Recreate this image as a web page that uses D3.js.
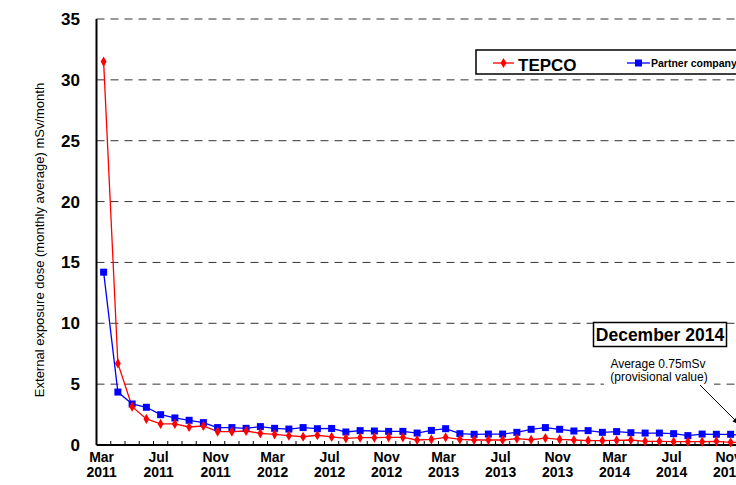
<!DOCTYPE html>
<html>
<head>
<meta charset="utf-8">
<script src="https://cdn.jsdelivr.net/npm/d3@7"></script>
<style>
  body { margin: 0; overflow: hidden; background: #fff; }
  text { font-family: "Liberation Sans", Arial, sans-serif; }
</style>
</head>
<body>
<div id="chart"></div>
<script>
// monthly labels, Mar 2011 .. Dec 2014
const months = [];
const monthNames = ['Jan','Feb','Mar','Apr','May','Jun','Jul','Aug','Sep','Oct','Nov','Dec'];
for (let y = 2011; y <= 2014; y++) {
  for (let m = 0; m < 12; m++) {
    if (y === 2011 && m < 2) continue;
    months.push(monthNames[m] + ' ' + y);
  }
}

const tepco = [
  31.5, 6.7, 3.15, 2.14, 1.73, 1.73, 1.48, 1.56, 1.1, 1.1,
  1.15, 0.96, 0.88, 0.77, 0.68, 0.8, 0.66, 0.55, 0.6, 0.6,
  0.63, 0.63, 0.41, 0.46, 0.63, 0.46, 0.41, 0.41, 0.41, 0.52,
  0.43, 0.57, 0.46, 0.41, 0.36, 0.36, 0.38, 0.41, 0.3, 0.3,
  0.27, 0.27, 0.27, 0.3, 0.22, 0.2
];
const partner = [
  14.2, 4.35, 3.37, 3.1, 2.49, 2.22, 2.03, 1.84, 1.43, 1.43,
  1.37, 1.51, 1.37, 1.31, 1.43, 1.34, 1.36, 1.07, 1.18, 1.15,
  1.12, 1.12, 0.98, 1.2, 1.34, 0.93, 0.88, 0.9, 0.9, 1.04,
  1.29, 1.43, 1.29, 1.15, 1.18, 1.04, 1.1, 1.01, 0.98, 0.98,
  0.93, 0.77, 0.9, 0.88, 0.88, 0.75
];
const yTicks = [0, 5, 10, 15, 20, 25, 30, 35];

const width = 780;
const height = 485;
const margin = { top: 19, bottom: 40, left: 96.5 };

const svg = d3.select('#chart')
  .append('svg')
  .attr('width', width)
  .attr('height', height);

const x = d3.scaleBand()
  .domain(d3.range(months.length))
  .range([margin.left, margin.left + 14.25 * months.length])
  .padding(0);

const y = d3.scaleLinear()
  .domain([0, 35])
  .range([height - margin.bottom, margin.top]);

const cx = i => x(i) + x.bandwidth() / 2;

// grid
svg.append('g')
  .selectAll('line')
  .data(yTicks.filter(d => d > 0))
  .join('line')
    .attr('x1', margin.left)
    .attr('x2', width)
    .attr('y1', d => y(d))
    .attr('y2', d => y(d))
    .attr('stroke', '#333')
    .attr('stroke-width', 1)
    .attr('stroke-dasharray', '8,6');

// y labels
svg.append('g')
  .selectAll('text')
  .data(yTicks)
  .join('text')
    .attr('x', 80)
    .attr('y', d => y(d))
    .attr('dy', '0.35em')
    .attr('text-anchor', 'end')
    .attr('font-size', '17px')
    .attr('font-weight', 'bold')
    .text(d => d);

// x ticks between months, pointing inward
svg.append('g')
  .selectAll('line')
  .data(d3.range(1, months.length))
  .join('line')
    .attr('x1', i => x(i))
    .attr('x2', i => x(i))
    .attr('y1', y(0))
    .attr('y2', y(0) - 4)
    .attr('stroke', '#000');

// x labels every 4 months
const xl = svg.append('g')
  .selectAll('text')
  .data(d3.range(0, months.length, 4))
  .join('text')
    .attr('text-anchor', 'middle')
    .attr('font-size', '14px')
    .attr('font-weight', 'bold');
xl.append('tspan')
  .attr('x', i => cx(i) - 2)
  .attr('y', 462)
  .text(i => months[i].split(' ')[0]);
xl.append('tspan')
  .attr('x', i => cx(i) - 2)
  .attr('y', 477)
  .text(i => months[i].split(' ')[1]);

// axes lines
svg.append('line')
  .attr('x1', margin.left).attr('x2', margin.left)
  .attr('y1', y(35)).attr('y2', y(0))
  .attr('stroke', '#000').attr('stroke-width', 2);
svg.append('line')
  .attr('x1', margin.left).attr('x2', width)
  .attr('y1', y(0)).attr('y2', y(0))
  .attr('stroke', '#000').attr('stroke-width', 2);

// y axis title
svg.append('text')
  .attr('transform', `translate(44, ${y(17.5) + 8}) rotate(-90)`)
  .attr('text-anchor', 'middle')
  .attr('font-size', '13px')
  .text('External exposure dose (monthly average) mSv/month');

// series
const line = d3.line().x((d, i) => cx(i)).y(d => y(d));

svg.append('path')
  .datum(partner)
  .attr('fill', 'none')
  .attr('stroke', '#0000ff')
  .attr('stroke-width', 1.3)
  .attr('d', line);

svg.append('path')
  .datum(tepco)
  .attr('fill', 'none')
  .attr('stroke', '#ff0000')
  .attr('stroke-width', 1.3)
  .attr('d', line);

svg.append('g')
  .attr('fill', '#0000ff')
  .selectAll('rect')
  .data(partner)
  .join('rect')
    .attr('x', (d, i) => cx(i) - 3.5)
    .attr('y', d => y(d) - 3.5)
    .attr('width', 7)
    .attr('height', 7);

const diamond = d3.symbol().type(d3.symbolDiamond).size(30);
svg.append('g')
  .attr('fill', '#ff0000')
  .selectAll('path')
  .data(tepco)
  .join('path')
    .attr('transform', (d, i) => `translate(${cx(i)},${y(d)})`)
    .attr('d', diamond);

// legend
const lg = svg.append('g');
lg.append('rect')
  .attr('x', 476).attr('y', 50)
  .attr('width', 300).attr('height', 24)
  .attr('fill', '#fff').attr('stroke', '#000').attr('stroke-width', 1.5);
lg.append('line')
  .attr('x1', 493).attr('x2', 514).attr('y1', 63).attr('y2', 63)
  .attr('stroke', '#ff0000').attr('stroke-width', 1.3);
lg.append('path')
  .attr('transform', 'translate(503.5,63)')
  .attr('d', diamond).attr('fill', '#ff0000');
lg.append('text')
  .attr('x', 518).attr('y', 70.5)
  .attr('font-size', '17px').attr('font-weight', 'bold')
  .text('TEPCO');
lg.append('line')
  .attr('x1', 627).attr('x2', 650).attr('y1', 63).attr('y2', 63)
  .attr('stroke', '#0000ff').attr('stroke-width', 1.3);
lg.append('rect')
  .attr('x', 635).attr('y', 59.5).attr('width', 7).attr('height', 7)
  .attr('fill', '#0000ff');
lg.append('text')
  .attr('x', 651).attr('y', 67)
  .attr('font-size', '10.5px').attr('font-weight', 'bold')
  .text('Partner company');

// annotation
const an = svg.append('g');
an.append('rect')
  .attr('x', 604).attr('y', 352).attr('width', 110).attr('height', 34)
  .attr('fill', '#fff');
an.append('rect')
  .attr('x', 593.5).attr('y', 322.5).attr('width', 133).attr('height', 24)
  .attr('fill', '#fff').attr('stroke', '#000').attr('stroke-width', 1.5);
an.append('text')
  .attr('x', 660).attr('y', 341)
  .attr('text-anchor', 'middle')
  .attr('font-size', '17.5px').attr('font-weight', 'bold')
  .text('December 2014');
an.append('text')
  .attr('x', 658).attr('y', 368)
  .attr('text-anchor', 'middle').attr('font-size', '12px')
  .text('Average 0.75mSv');
an.append('text')
  .attr('x', 659).attr('y', 381)
  .attr('text-anchor', 'middle').attr('font-size', '12px')
  .text('(provisional value)');

svg.append('defs').append('marker')
  .attr('id', 'arr')
  .attr('viewBox', '0 0 10 10')
  .attr('refX', 9).attr('refY', 5)
  .attr('markerWidth', 7).attr('markerHeight', 7)
  .attr('orient', 'auto')
  .append('path').attr('d', 'M0,1 L10,5 L0,9 Z').attr('fill', '#000');
svg.append('line')
  .attr('x1', 700).attr('y1', 385)
  .attr('x2', cx(45) - 6).attr('y2', y(0.75) - 12)
  .attr('stroke', '#000').attr('stroke-width', 1)
  .attr('marker-end', 'url(#arr)');
</script>
</body>
</html>
